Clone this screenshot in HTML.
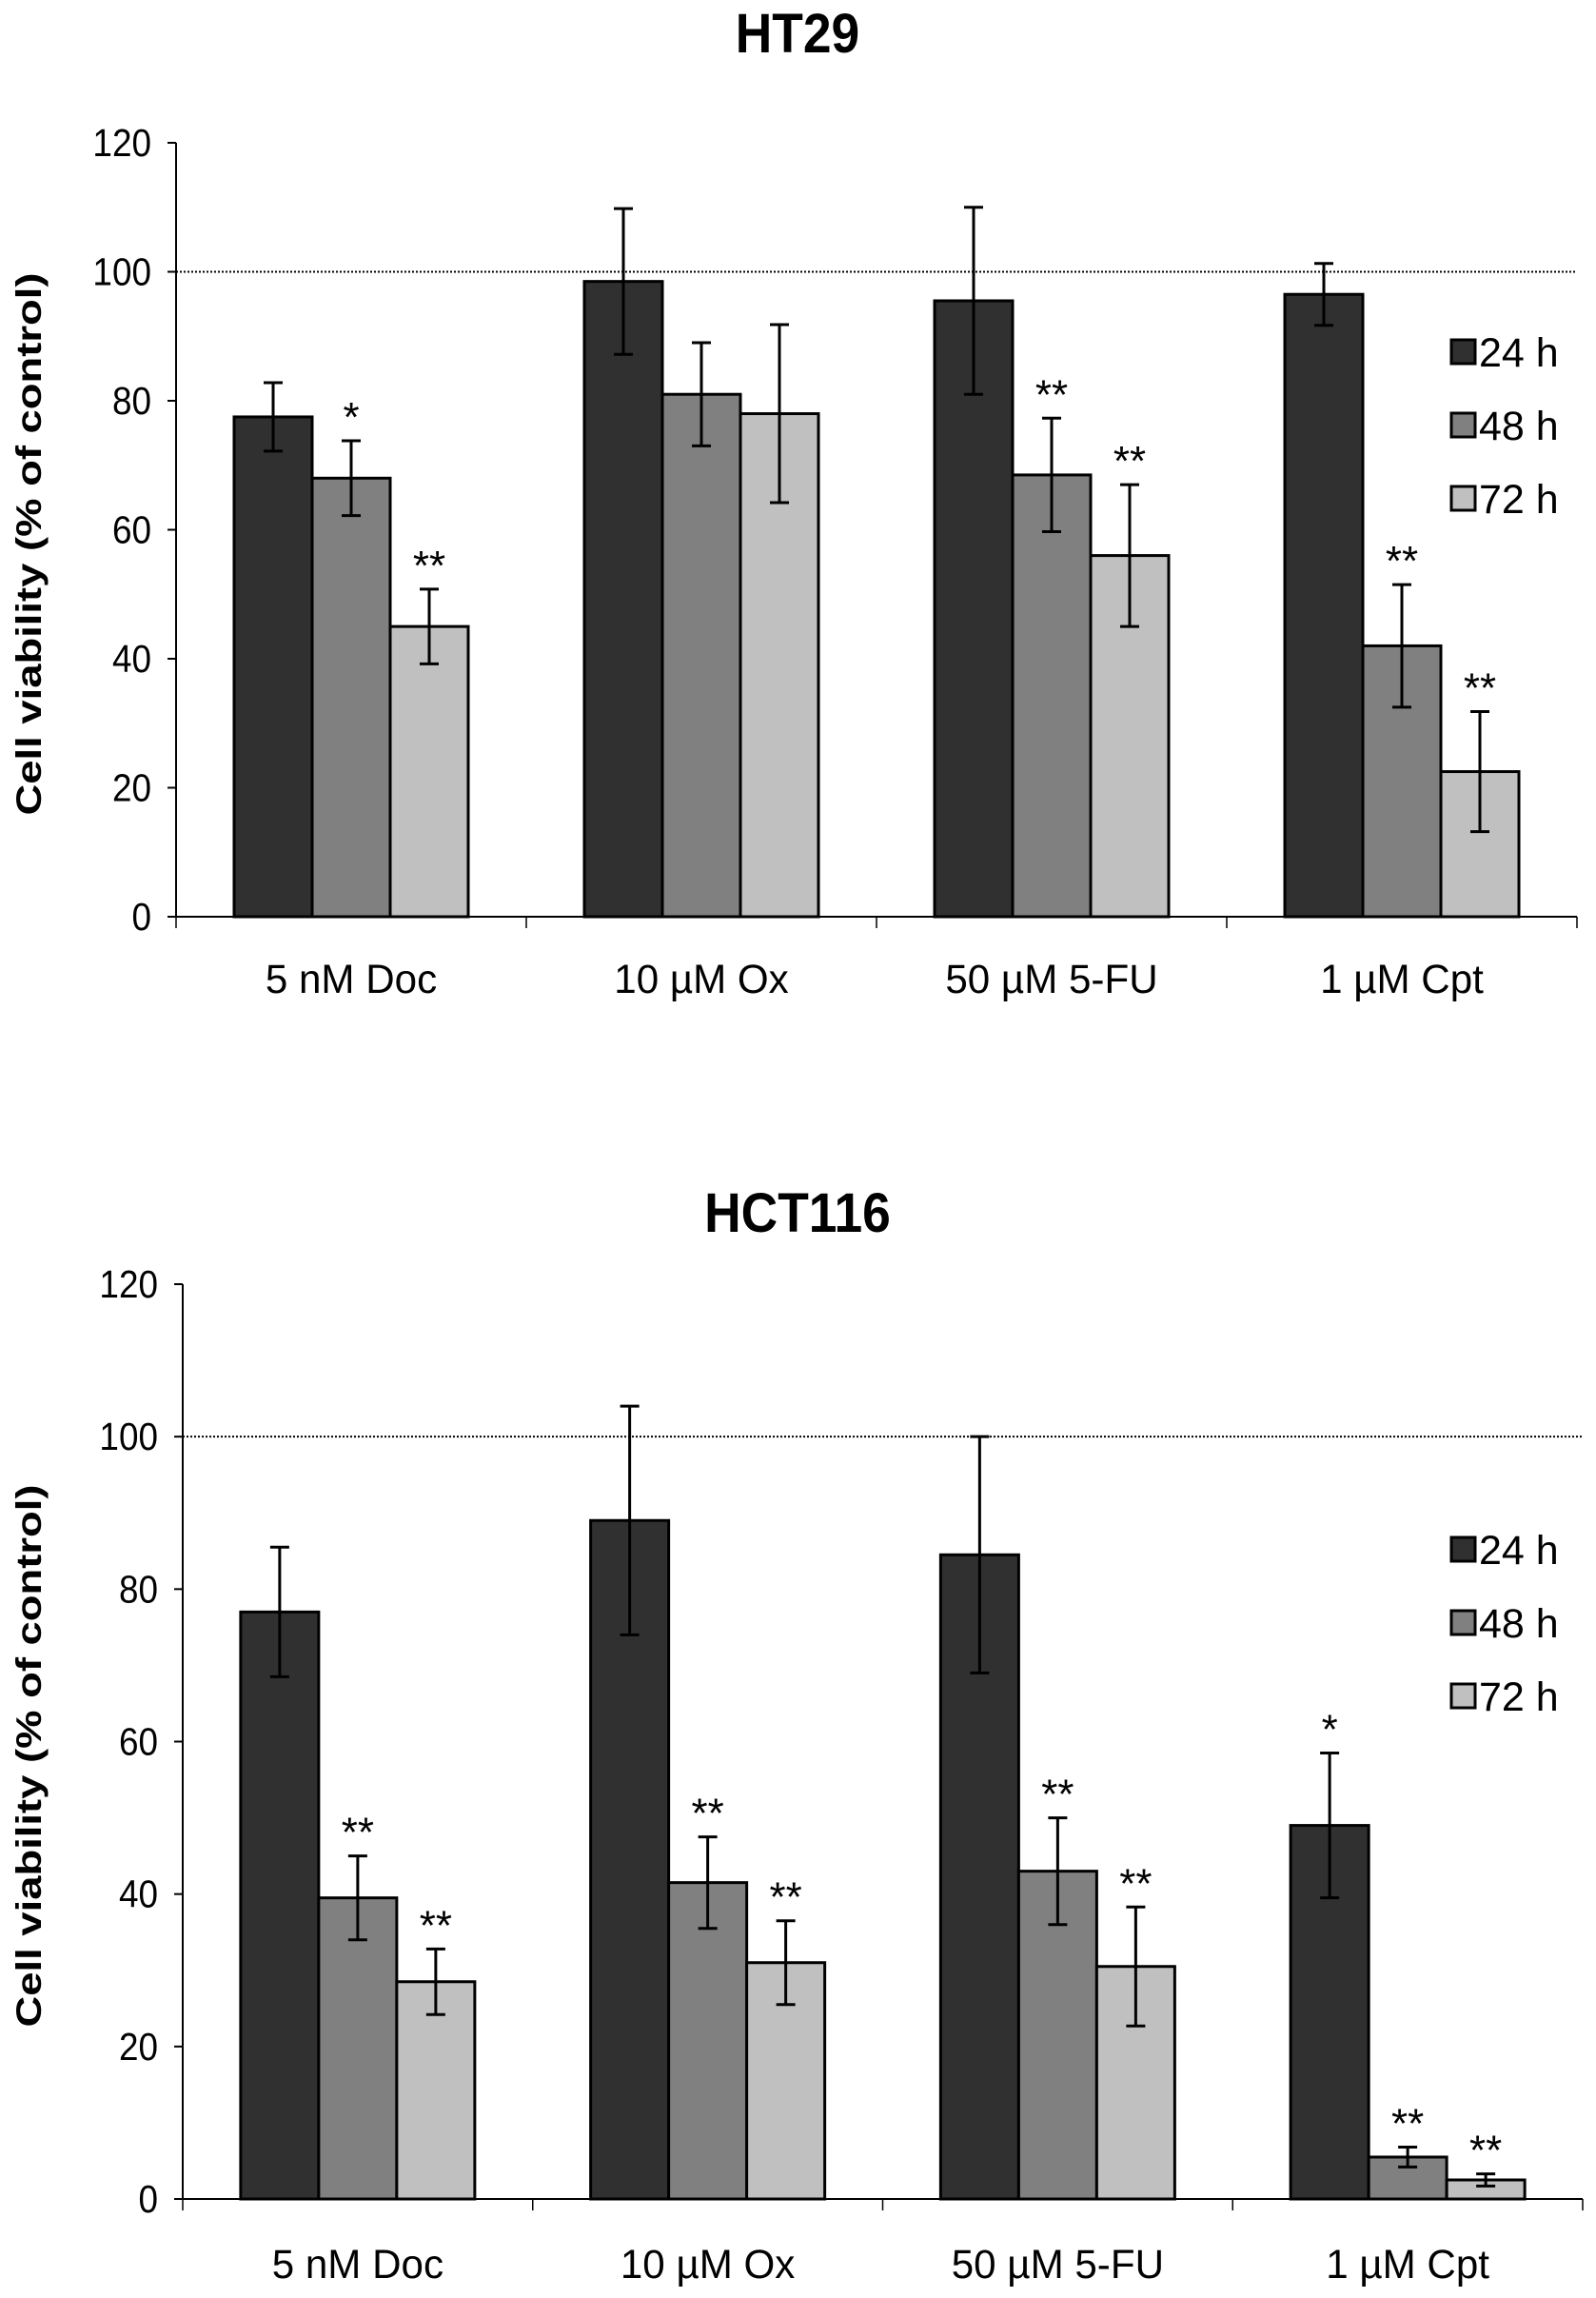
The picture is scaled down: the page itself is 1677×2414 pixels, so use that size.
<!DOCTYPE html>
<html><head><meta charset="utf-8"><style>
html,body{margin:0;padding:0;background:#fff;}
svg{display:block;font-family:"Liberation Sans",Arial,sans-serif;}
</style></head><body>
<svg id="fig" width="1677" height="2414" viewBox="0 0 1677 2414" xmlns="http://www.w3.org/2000/svg"></svg>
<script>
const categories = ["5 nM Doc", "10 µM Ox", "50 µM 5-FU", "1 µM Cpt"];
const seriesNames = ["24 h", "48 h", "72 h"];
const yTicks = [0, 20, 40, 60, 80, 100, 120];
// HT29
const ht29_24 = [77.5, 98.5, 95.5, 96.5];
const ht29_48 = [68, 81, 68.5, 42];
const ht29_72 = [45, 78, 56, 22.5];
const ht29_err24 = [5.3, 11.3, 14.5, 4.8];
const ht29_err48 = [5.8, 8, 8.8, 9.5];
const ht29_err72 = [5.8, 13.8, 11, 9.3];
const ht29_sig24 = ["", "", "", ""];
const ht29_sig48 = ["*", "", "**", "**"];
const ht29_sig72 = ["**", "", "**", "**"];
// HCT116
const hct_24 = [77, 89, 84.5, 49];
const hct_48 = [39.5, 41.5, 43, 5.5];
const hct_72 = [28.5, 31, 30.5, 2.5];
const hct_err24 = [8.5, 15, 15.5, 9.5];
const hct_err48 = [5.5, 6, 7, 1.3];
const hct_err72 = [4.3, 5.5, 7.8, 0.8];
const hct_sig24 = ["", "", "", "*"];
const hct_sig48 = ["**", "**", "**", "**"];
const hct_sig72 = ["**", "**", "**", "**"];

const NS = "http://www.w3.org/2000/svg";
const svg = document.getElementById("fig");
function mk(tag, attrs, parent, text) {
  const e = document.createElementNS(NS, tag);
  for (const k in attrs) e.setAttribute(k, attrs[k]);
  if (text !== undefined) e.textContent = text;
  (parent || svg).appendChild(e);
  return e;
}
const fills = ["#303030", "#808080", "#c0c0c0"];

function chart(cfg) {
  const g = mk("g", {});
  
  
  const y = v => cfg.y0 - (cfg.y0 - cfg.y120) * v / 120;
  const catW = (cfg.xR - cfg.xL) / categories.length;
  const barW = 82;
  const x = (ci, si) => cfg.xL + ci * catW + (catW - 3 * barW) / 2 + si * barW;

  const t = mk("text", {x: 838, y: cfg.titleY, "text-anchor": "middle", "font-size": 58, "font-weight": "bold", transform: `translate(838 0) scale(0.92 1) translate(-838 0)`}, g, cfg.title);
  
  

  const yt = mk("text", {x: 0, y: 0, "text-anchor": "middle", "font-size": 37, "font-weight": "bold", transform: `translate(43 ${(cfg.y0 + cfg.y120) / 2 + 15}) rotate(-90)`, textLength: 570, lengthAdjust: "spacingAndGlyphs"}, g, "Cell viability (% of control)");
  
  

  const ax = mk("line", {x1: cfg.xL, y1: cfg.y120, x2: cfg.xL, y2: cfg.y0, stroke: "#000", "stroke-width": 2}, g);
  
  
  const xa = mk("line", {x1: cfg.xL, y1: cfg.y0, x2: cfg.xR, y2: cfg.y0, stroke: "#000", "stroke-width": 2}, g);
  
  

  yTicks.forEach(v => {
    mk("line", {x1: cfg.xL - 9, y1: y(v), x2: cfg.xL, y2: y(v), stroke: "#000", "stroke-width": 2}, g);
    const tl = mk("text", {x: cfg.xL - 26, y: y(v) + 14, "text-anchor": "end", "font-size": 41, transform: `translate(${cfg.xL - 26} 0) scale(0.9 1) translate(${-(cfg.xL - 26)} 0)`}, g, String(v));
    
    
  });
  for (let i = 0; i <= categories.length; i++) {
    const xx = cfg.xL + i * catW;
    mk("line", {x1: xx, y1: cfg.y0, x2: xx, y2: cfg.y0 + 12, stroke: "#000", "stroke-width": 1.5}, g);
  }
  const ref = mk("line", {x1: cfg.xL, y1: y(100), x2: cfg.xR, y2: y(100), stroke: "#000", "stroke-width": 2, "stroke-dasharray": "2 2"}, g);
  
  

  categories.forEach((c, ci) => {
    const cx = cfg.xL + ci * catW + catW / 2;
    const cl = mk("text", {x: cx, y: cfg.labelY, "text-anchor": "middle", "font-size": 43, transform: `translate(${cx} 0) scale(0.98 1) translate(${-cx} 0)`}, g, c);
    
    
    for (let si = 0; si < 3; si++) {
      const v = cfg.vals[si][ci], e = cfg.errs[si][ci], s = cfg.sigs[si][ci];
      const bx = x(ci, si);
      const r = mk("rect", {x: bx, y: y(v), width: barW, height: cfg.y0 - y(v), fill: fills[si], stroke: "#000", "stroke-width": 3}, g);
      
      
      const mx = bx + barW / 2;
      const eg = mk("g", {stroke: "#000", "stroke-width": 3}, g);
      
      
      mk("line", {x1: mx, y1: y(v + e), x2: mx, y2: y(v - e)}, eg);
      mk("line", {x1: mx - 10, y1: y(v + e), x2: mx + 10, y2: y(v + e)}, eg);
      mk("line", {x1: mx - 10, y1: y(v - e), x2: mx + 10, y2: y(v - e)}, eg);
      if (s) {
        const st = mk("text", {x: mx, y: y(v + e) - 10, "text-anchor": "middle", "font-size": 44}, g, s);
        
        
      }
    }
  });
  seriesNames.forEach((n, si) => {
    const ly = cfg.legY + si * 77;
    const lg = mk("g", {}, g);
    
    
    mk("rect", {x: 1525, y: ly - 13, width: 25, height: 25, fill: fills[si], stroke: "#000", "stroke-width": 3}, lg);
    mk("text", {x: 1554, y: ly + 15, "font-size": 43}, lg, n);
  });
}

chart({name: "ht29-chart", title: "HT29", titleY: 55, xL: 185, xR: 1657, y0: 963, y120: 150, labelY: 1043,
  legY: 370, vals: [ht29_24, ht29_48, ht29_72], errs: [ht29_err24, ht29_err48, ht29_err72], sigs: [ht29_sig24, ht29_sig48, ht29_sig72]});
chart({name: "hct116-chart", title: "HCT116", titleY: 1294, xL: 192, xR: 1663, y0: 2310, y120: 1349, labelY: 2393,
  legY: 1628, vals: [hct_24, hct_48, hct_72], errs: [hct_err24, hct_err48, hct_err72], sigs: [hct_sig24, hct_sig48, hct_sig72]});
</script>
</body></html>
